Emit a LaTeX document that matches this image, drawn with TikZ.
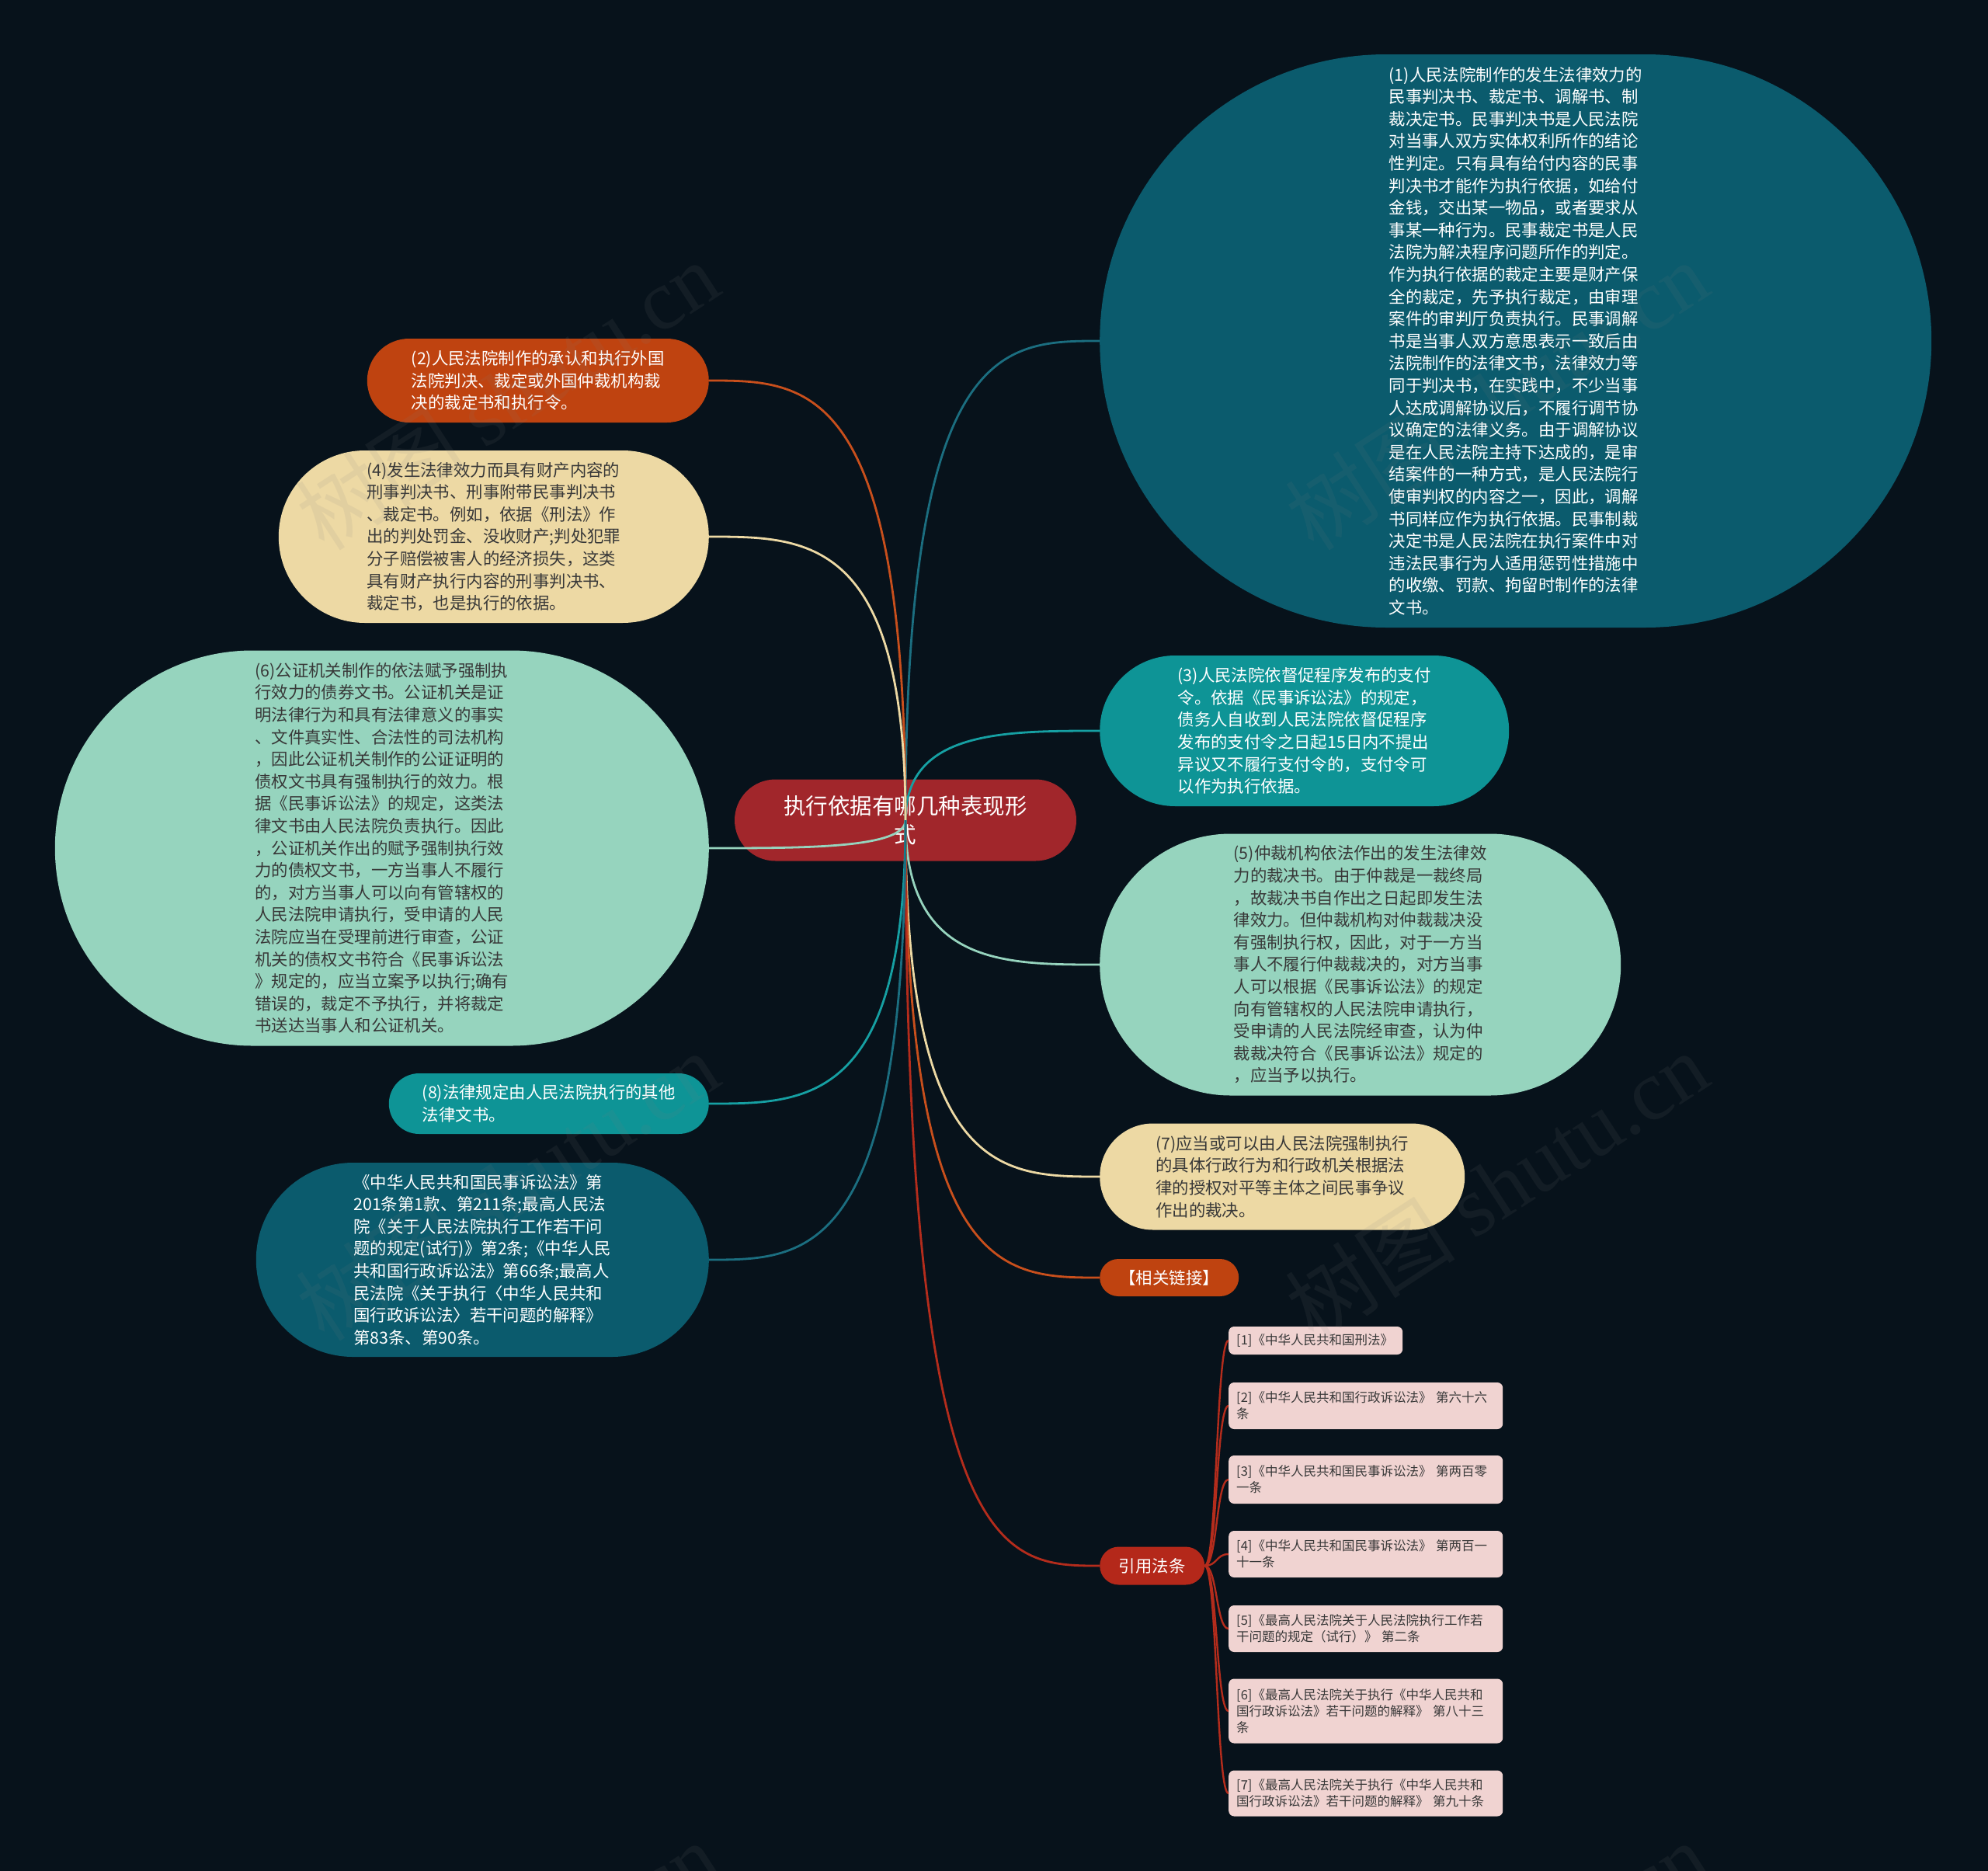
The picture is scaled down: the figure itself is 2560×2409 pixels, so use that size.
\documentclass[tikz,border=0pt]{standalone}
\usepackage{fontspec}
\setmainfont{Noto Sans CJK SC}
\newfontfamily\wmserif{Liberation Serif}
\usetikzlibrary{calc}
\definecolor{bg}{HTML}{07121B}
\definecolor{cCenter}{HTML}{A1262B}
\definecolor{cDeep}{HTML}{0B5B6D}
\definecolor{cTeal}{HTML}{0E9496}
\definecolor{cOrange}{HTML}{BF4310}
\definecolor{cBeige}{HTML}{EDD9A4}
\definecolor{cMint}{HTML}{96D4BE}
\definecolor{cRed}{HTML}{B4281A}
\definecolor{cCite}{HTML}{F0D3D1}
\definecolor{cDark}{HTML}{383838}
\definecolor{lDeep}{HTML}{1B6E80}
\definecolor{lTeal}{HTML}{16A0A3}
\definecolor{lOrange}{HTML}{C84F1C}
\definecolor{lRed}{HTML}{B42C1C}
\begin{document}
\begin{tikzpicture}[x=1pt,y=-1pt,
  blob/.style={rectangle, inner sep=0pt},
  body/.style={font=\fontsize{21.4}{28.6}\selectfont, align=left},
  rnode/.style={blob, body, anchor=west},
  lnode/.style={blob, body, anchor=east},
  cite/.style={rectangle, fill=cCite, text=cDark, rounded corners=7pt, inner xsep=10pt, inner ysep=0pt, anchor=west, align=left, font=\fontsize{16.5}{21}\selectfont},
  conn/.style={line width=2.8pt},
  wm/.style={text=gray, opacity=0.10, rotate=33, font=\fontsize{110}{110}\selectfont}
]
\useasboundingbox (0,0) rectangle (2560,2409);
\fill[bg] (0,0) rectangle (2560,2409);

% centre
\node[blob, fill=cCenter, text=white, minimum width=440pt, minimum height=105pt, rounded corners=52.5pt, font=\fontsize{28.5}{37}\selectfont, align=center] (ctr) at (1166,1056) {执行依据有哪几种表现形\\式};

% right side
\node[rnode, fill=cDeep, text=white, minimum width=1071pt, minimum height=738pt, rounded corners=369pt] (n1) at (1416,439) {(1)人民法院制作的发生法律效力的\\民事判决书、裁定书、调解书、制\\裁决定书。民事判决书是人民法院\\对当事人双方实体权利所作的结论\\性判定。只有具有给付内容的民事\\判决书才能作为执行依据，如给付\\金钱，交出某一物品，或者要求从\\事某一种行为。民事裁定书是人民\\法院为解决程序问题所作的判定。\\作为执行依据的裁定主要是财产保\\全的裁定，先予执行裁定，由审理\\案件的审判厅负责执行。民事调解\\书是当事人双方意思表示一致后由\\法院制作的法律文书，法律效力等\\同于判决书，在实践中，不少当事\\人达成调解协议后，不履行调节协\\议确定的法律义务。由于调解协议\\是在人民法院主持下达成的，是审\\结案件的一种方式，是人民法院行\\使审判权的内容之一，因此，调解\\书同样应作为执行依据。民事制裁\\决定书是人民法院在执行案件中对\\违法民事行为人适用惩罚性措施中\\的收缴、罚款、拘留时制作的法律\\文书。};

\node[rnode, fill=cTeal, text=white, minimum width=527pt, minimum height=194pt, rounded corners=97pt] (n3) at (1416,941) {(3)人民法院依督促程序发布的支付\\令。依据《民事诉讼法》的规定，\\债务人自收到人民法院依督促程序\\发布的支付令之日起15日内不提出\\异议又不履行支付令的，支付令可\\以作为执行依据。};

\node[rnode, fill=cMint, text=cDark, minimum width=671pt, minimum height=337pt, rounded corners=168.5pt] (n5) at (1416,1242) {(5)仲裁机构依法作出的发生法律效\\力的裁决书。由于仲裁是一裁终局\\，故裁决书自作出之日起即发生法\\律效力。但仲裁机构对仲裁裁决没\\有强制执行权，因此，对于一方当\\事人不履行仲裁裁决的，对方当事\\人可以根据《民事诉讼法》的规定\\向有管辖权的人民法院申请执行，\\受申请的人民法院经审查，认为仲\\裁裁决符合《民事诉讼法》规定的\\，应当予以执行。};

\node[rnode, fill=cBeige, text=cDark, minimum width=470pt, minimum height=137pt, rounded corners=68.5pt] (n7) at (1416,1515) {(7)应当或可以由人民法院强制执行\\的具体行政行为和行政机关根据法\\律的授权对平等主体之间民事争议\\作出的裁决。};

\node[rnode, fill=cOrange, text=white, minimum width=179pt, minimum height=48pt, rounded corners=24pt, align=center] (rel) at (1416,1645) {【相关链接】};

\node[rnode, fill=cRed, text=white, minimum width=135pt, minimum height=49pt, rounded corners=24.5pt, align=center] (yin) at (1416,2016) {引用法条};

% left side
\node[lnode, fill=cOrange, text=white, minimum width=440pt, minimum height=108pt, rounded corners=54pt] (n2) at (913,490) {(2)人民法院制作的承认和执行外国\\法院判决、裁定或外国仲裁机构裁\\决的裁定书和执行令。};

\node[lnode, fill=cBeige, text=cDark, minimum width=554pt, minimum height=222pt, rounded corners=111pt] (n4) at (913,691) {(4)发生法律效力而具有财产内容的\\刑事判决书、刑事附带民事判决书\\、裁定书。例如，依据《刑法》作\\出的判处罚金、没收财产;判处犯罪\\分子赔偿被害人的经济损失，这类\\具有财产执行内容的刑事判决书、\\裁定书，也是执行的依据。};

\node[lnode, fill=cMint, text=cDark, minimum width=842pt, minimum height=509pt, rounded corners=254.5pt] (n6) at (913,1092) {(6)公证机关制作的依法赋予强制执\\行效力的债券文书。公证机关是证\\明法律行为和具有法律意义的事实\\、文件真实性、合法性的司法机构\\，因此公证机关制作的公证证明的\\债权文书具有强制执行的效力。根\\据《民事诉讼法》的规定，这类法\\律文书由人民法院负责执行。因此\\，公证机关作出的赋予强制执行效\\力的债权文书，一方当事人不履行\\的，对方当事人可以向有管辖权的\\人民法院申请执行，受申请的人民\\法院应当在受理前进行审查，公证\\机关的债权文书符合《民事诉讼法\\》规定的，应当立案予以执行;确有\\错误的，裁定不予执行，并将裁定\\书送达当事人和公证机关。};

\node[lnode, fill=cTeal, text=white, minimum width=412pt, minimum height=78pt, rounded corners=39pt] (n8) at (913,1421) {(8)法律规定由人民法院执行的其他\\法律文书。};

\node[lnode, fill=cDeep, text=white, minimum width=583pt, minimum height=250pt, rounded corners=125pt] (nL) at (913,1622) {《中华人民共和国民事诉讼法》第\\201条第1款、第211条;最高人民法\\院《关于人民法院执行工作若干问\\题的规定(试行)》第2条;《中华人民\\共和国行政诉讼法》第66条;最高人\\民法院《关于执行〈中华人民共和\\国行政诉讼法〉若干问题的解释》\\第83条、第90条。};

% citations
\node[cite, text width=204pt, minimum height=36pt] (c1) at (1582,1726) {[1]《中华人民共和国刑法》};
\node[cite, text width=333pt, minimum height=60pt] (c2) at (1582,1810) {[2]《中华人民共和国行政诉讼法》 第六十六\\条};
\node[cite, text width=333pt, minimum height=62pt] (c3) at (1582,1905) {[3]《中华人民共和国民事诉讼法》 第两百零\\一条};
\node[cite, text width=333pt, minimum height=60pt] (c4) at (1582,2001) {[4]《中华人民共和国民事诉讼法》 第两百一\\十一条};
\node[cite, text width=333pt, minimum height=60pt] (c5) at (1582,2097) {[5]《最高人民法院关于人民法院执行工作若\\干问题的规定（试行）》 第二条};
\node[cite, text width=333pt, minimum height=83pt] (c6) at (1582,2203) {[6]《最高人民法院关于执行《中华人民共和\\国行政诉讼法》若干问题的解释》 第八十三\\条};
\node[cite, text width=333pt, minimum height=59pt] (c7) at (1582,2309) {[7]《最高人民法院关于执行《中华人民共和\\国行政诉讼法》若干问题的解释》 第九十条};

% connectors from centre
\foreach \tgt/\col in {n1.west/lDeep, n3.west/lTeal, n5.west/cMint, n7.west/cBeige, rel.west/lOrange, yin.west/lRed, n2.east/lOrange, n4.east/cBeige, n6.east/cMint, n8.east/lTeal, nL.east/lDeep}{
  \draw[conn, draw=\col] (ctr.center) .. controls (ctr.center |- \tgt) and ($(ctr.center |- \tgt)!0.5!(\tgt)$) .. (\tgt);
}
% citation connectors
\foreach \c in {c1,c2,c3,c4,c5,c6,c7}{
  \draw[conn, draw=lRed, line width=2.4pt] (yin.east) .. controls +(16,0) and +(-16,0) .. (\c.west);
}

% watermarks
\begin{scope}
\clip (0,0) rectangle (2560,2409);
\foreach \p [count=\i] in {(653,509),(1927,509),(653,1527),(1927,1527),(653,2544),(1927,2544)}{
  \node[wm] (wm\i) at \p {树图 {\wmserif shutu.cn}};
}
\end{scope}
\end{tikzpicture}
\end{document}
